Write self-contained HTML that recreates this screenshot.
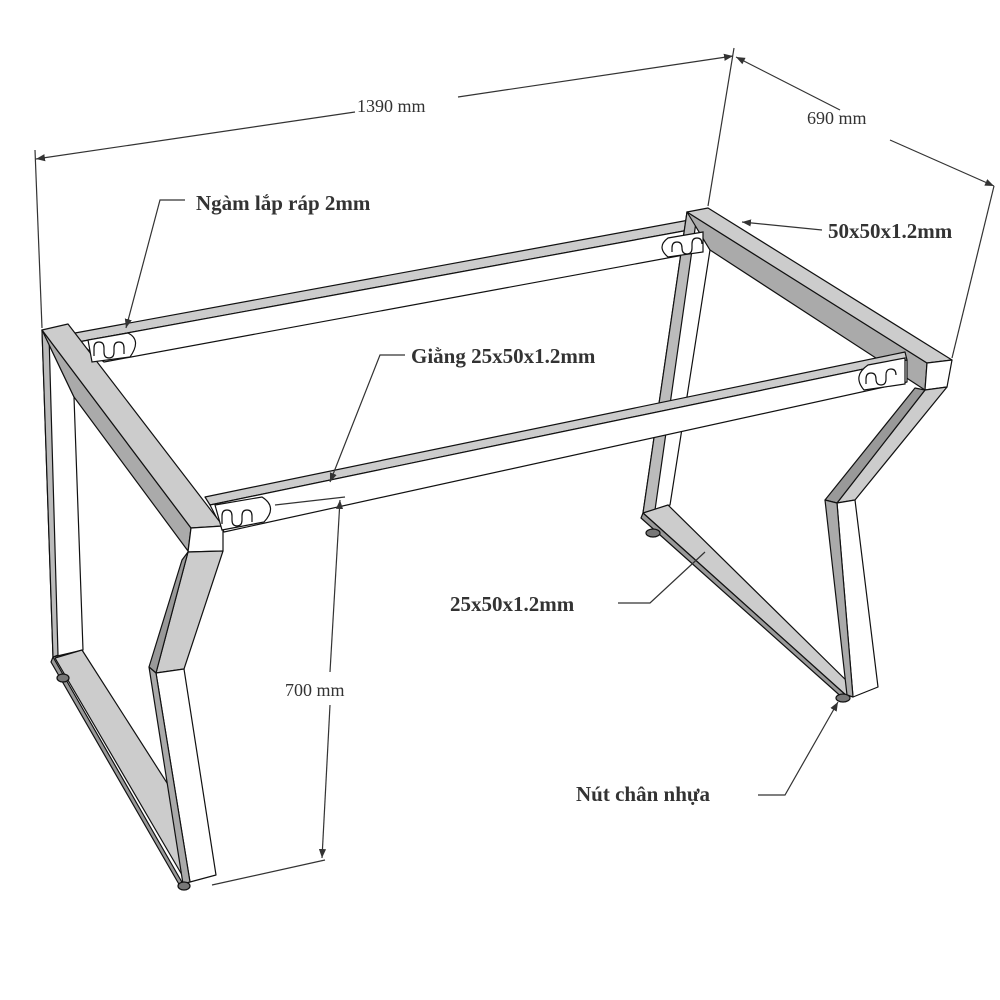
<!DOCTYPE html>
<html><head><meta charset="utf-8"><style>
html,body{margin:0;padding:0;background:#fff}
svg{display:block}
text{font-family:"Liberation Serif","DejaVu Serif",serif;fill:#333}
.b{font-weight:bold;font-size:21px}
.d{font-size:18px}
</style></head><body>
<svg width="1000" height="1000" viewBox="0 0 1000 1000" xmlns="http://www.w3.org/2000/svg">
<defs>
<marker id="a" viewBox="0 0 10 10" refX="10" refY="5" markerWidth="9" markerHeight="9" orient="auto-start-reverse" markerUnits="userSpaceOnUse"><path d="M0,1 L10,5 L0,9 z" fill="#333"/></marker>
</defs>
<g stroke="#111" stroke-width="1.2" stroke-linejoin="round">
<polygon points="75,333 700,218 700,228 78,342" fill="#ccc"/>
<polygon points="78,342 700,228 700,252 104,362" fill="#fff"/>
<polygon points="687,212 710,250 670,505 643,513" fill="#fff"/>
<polygon points="687,212 697,215 655,510 643,513" fill="#bbb"/>
<polygon points="643,513 668,505 856,690 848,697" fill="#ccc"/>
<polygon points="643,513 848,697 845,700 641,518" fill="#999"/>
<polygon points="687,212 927,363 925,390 710,250" fill="#aaa"/>
<polygon points="687,212 708,208 952,360 927,363" fill="#ccc"/>
<polygon points="927,363 952,360 947,387 925,390" fill="#fff"/>
<polygon points="925,390 947,387 855,500 837,503" fill="#ccc"/>
<polygon points="925,390 837,503 825,500 915,388" fill="#999"/>
<polygon points="837,503 855,500 878,687 853,697" fill="#fff"/>
<polygon points="825,500 837,503 853,697 847,695" fill="#aaa"/>
<ellipse cx="653" cy="533" rx="7" ry="4" fill="#777"/>
<ellipse cx="843" cy="698" rx="7" ry="4" fill="#777"/>
<polygon points="205,497 905,352 907,360 210,505" fill="#ccc"/>
<polygon points="210,505 907,360 907,382 224,532" fill="#fff"/>
<polygon points="42,330 74,397 83,650 53,657" fill="#fff"/>
<polygon points="42,330 49,335 58,655 53,657" fill="#bbb"/>
<polygon points="55,658 82,650 176,797 185,880" fill="#ccc"/>
<polygon points="53,657 183,884 180,886 51,662" fill="#999"/>
<polygon points="42,330 191,528 188,551 74,397" fill="#aaa"/>
<polygon points="42,330 68,324 223,526 191,528" fill="#ccc"/>
<polygon points="191,528 223,526 223,551 188,552" fill="#fff"/>
<polygon points="188,552 223,551 184,669 156,673" fill="#ccc"/>
<polygon points="188,552 156,673 149,667 182,560" fill="#999"/>
<polygon points="156,673 184,669 216,875 190,882" fill="#fff"/>
<polygon points="149,667 156,673 190,882 183,884" fill="#aaa"/>
<ellipse cx="63" cy="678" rx="6" ry="4" fill="#777"/>
<ellipse cx="184" cy="886" rx="6" ry="4" fill="#777"/>
</g>
<g fill="#fff" stroke="#111" stroke-width="1.2">
<path d="M88,340 L128,333 Q142,340 130,357 L92,362 Z"/>
<path d="M94,356 l0,-8 q0,-6 5,-6 q5,0 5,6 l0,4 q0,6 5,6 q5,0 5,-6 l0,-4 q0,-6 5,-6 q5,0 5,6 l0,6" fill="none"/>
<path d="M703,232 L668,238 Q656,247 668,257 L703,252 Z"/>
<path d="M672,252 l0,-4 q0,-6 5,-6 q5,0 5,6 q0,6 5,6 q5,0 5,-6 l0,-4 q0,-6 5,-6 q5,0 5,6" fill="none"/>
<path d="M215,505 L262,497 Q278,507 264,522 L222,530 Z"/>
<path d="M222,524 l0,-8 q0,-6 5,-6 q5,0 5,6 l0,4 q0,6 5,6 q5,0 5,-6 l0,-4 q0,-6 5,-6 q5,0 5,6 l0,6" fill="none"/>
<path d="M905,358 L868,365 Q852,376 864,390 L905,384 Z"/>
<path d="M866,384 l0,-5 q0,-6 5,-6 q5,0 5,6 q0,6 5,6 q5,0 5,-6 l0,-4 q0,-6 5,-6 q5,0 5,6" fill="none"/>
</g>
<g stroke="#333" stroke-width="1.2" fill="none">
<line x1="35" y1="150" x2="42" y2="328"/>
<line x1="734" y1="48" x2="708" y2="206"/>
<line x1="355" y1="112" x2="36" y2="159" marker-end="url(#a)"/>
<line x1="458" y1="97" x2="733" y2="56" marker-end="url(#a)"/>
<line x1="840" y1="110" x2="736" y2="57" marker-end="url(#a)"/>
<line x1="890" y1="140" x2="994" y2="186" marker-end="url(#a)"/>
<line x1="994" y1="186" x2="952" y2="358"/>
<line x1="275" y1="505" x2="345" y2="497"/>
<line x1="212" y1="885" x2="325" y2="860"/>
<line x1="330" y1="672" x2="340" y2="500" marker-end="url(#a)"/>
<line x1="330" y1="705" x2="322" y2="858" marker-end="url(#a)"/>
<polyline points="185,200 160,200 126,328" marker-end="url(#a)"/>
<polyline points="822,230 742,222" marker-end="url(#a)"/>
<polyline points="405,355 380,355 330,482" marker-end="url(#a)"/>
<polyline points="618,603 650,603 705,552"/>
<polyline points="758,795 785,795 838,702" marker-end="url(#a)"/>
</g>
<text class="d" x="357" y="112">1390 mm</text>
<text class="d" x="807" y="124">690 mm</text>
<text class="d" x="285" y="696">700 mm</text>
<text class="b" x="196" y="210">Ngàm lắp ráp 2mm</text>
<text class="b" x="828" y="238">50x50x1.2mm</text>
<text class="b" x="411" y="363">Giằng 25x50x1.2mm</text>
<text class="b" x="450" y="611">25x50x1.2mm</text>
<text class="b" x="576" y="801">Nút chân nhựa</text>
</svg>
</body></html>
